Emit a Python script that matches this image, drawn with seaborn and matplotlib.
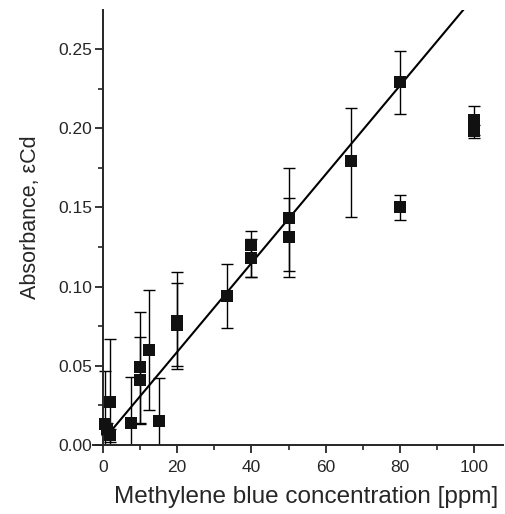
import matplotlib
matplotlib.use("Agg")
import matplotlib.pyplot as plt
import seaborn as sns
import numpy as np
import pandas as pd
from matplotlib.ticker import MultipleLocator

# measured points (concentration in ppm, absorbance)
conc = [0.5, 1.0, 2.0, 2.0, 7.5, 10.0, 10.0, 12.5, 15.0, 20.0, 20.0,
        33.3, 40.0, 40.0, 50.0, 50.0, 66.7, 80.0, 80.0, 100.0, 100.0]
absorb = [0.013, 0.010, 0.027, 0.006, 0.014, 0.049, 0.041, 0.060, 0.015, 0.078, 0.076,
          0.094, 0.126, 0.118, 0.143, 0.131, 0.179, 0.229, 0.150, 0.205, 0.198]
err_low = [0.034, 0.004, 0.040, 0.004, 0.029, 0.035, 0.028, 0.038, 0.027, 0.028, 0.028,
           0.020, 0.020, 0.012, 0.033, 0.025, 0.035, 0.020, 0.008, 0.009, 0.004]
err_high = [0.034, 0.004, 0.040, 0.004, 0.029, 0.035, 0.027, 0.038, 0.027, 0.031, 0.026,
            0.020, 0.009, 0.012, 0.032, 0.025, 0.034, 0.020, 0.008, 0.009, 0.004]

# linear fit drawn on the chart
fit_intercept = 0.0028
fit_slope = 0.0028
fit_range = [0.5, 97.4]

df = pd.DataFrame({"conc": conc, "absorb": absorb})

sns.set_style("ticks")
plt.rcParams['font.family'] = ['Liberation Sans', 'DejaVu Sans']

fig = plt.figure(figsize=(5.06, 5.14), dpi=100)
ax = fig.add_axes([93 / 506, 69 / 514, 410 / 506, 435 / 514])

ax.errorbar(conc, absorb, yerr=[err_low, err_high], fmt="none", ecolor="black",
            elinewidth=1.0, capsize=4.3, capthick=1.0, zorder=2)

fit_x = np.array(fit_range)
fit = pd.DataFrame({"x": fit_x, "y": fit_intercept + fit_slope * fit_x})
sns.lineplot(data=fit, x="x", y="y", color="black", linewidth=1.5, ax=ax, zorder=3)

sns.scatterplot(data=df, x="conc", y="absorb", marker="s", s=64, color="#111111",
                edgecolor="#111111", linewidth=0, ax=ax, zorder=4)

ax.set_xlim(-2.7, 107.8)
ax.set_ylim(0, 0.2746)
ax.spines["top"].set_visible(False)
ax.spines["right"].set_visible(False)
ax.spines["left"].set_position(("data", 0))
for s in ["left", "bottom"]:
    ax.spines[s].set_linewidth(1.4)

ax.xaxis.set_major_locator(MultipleLocator(20))
ax.xaxis.set_minor_locator(MultipleLocator(10))
ax.yaxis.set_major_locator(MultipleLocator(0.05))
ax.yaxis.set_minor_locator(MultipleLocator(0.025))
ax.yaxis.set_major_formatter(matplotlib.ticker.FormatStrFormatter("%.2f"))
ax.tick_params(which="major", direction="out", length=6, width=1.3, labelsize=12.5)
ax.tick_params(axis="x", which="major", pad=5)
ax.tick_params(axis="y", which="major", pad=2)
ax.tick_params(which="minor", direction="out", length=3.5, width=1.2)

ax.set_xlabel("Methylene blue concentration [ppm]", fontsize=17.5, labelpad=7)
ax.set_ylabel("Absorbance, εCd", fontsize=15.5)
ax.yaxis.set_label_coords(-0.128, 0.524)
ax.xaxis.set_label_coords(0.521, -0.095)

fig.savefig("out.png", dpi=100)
